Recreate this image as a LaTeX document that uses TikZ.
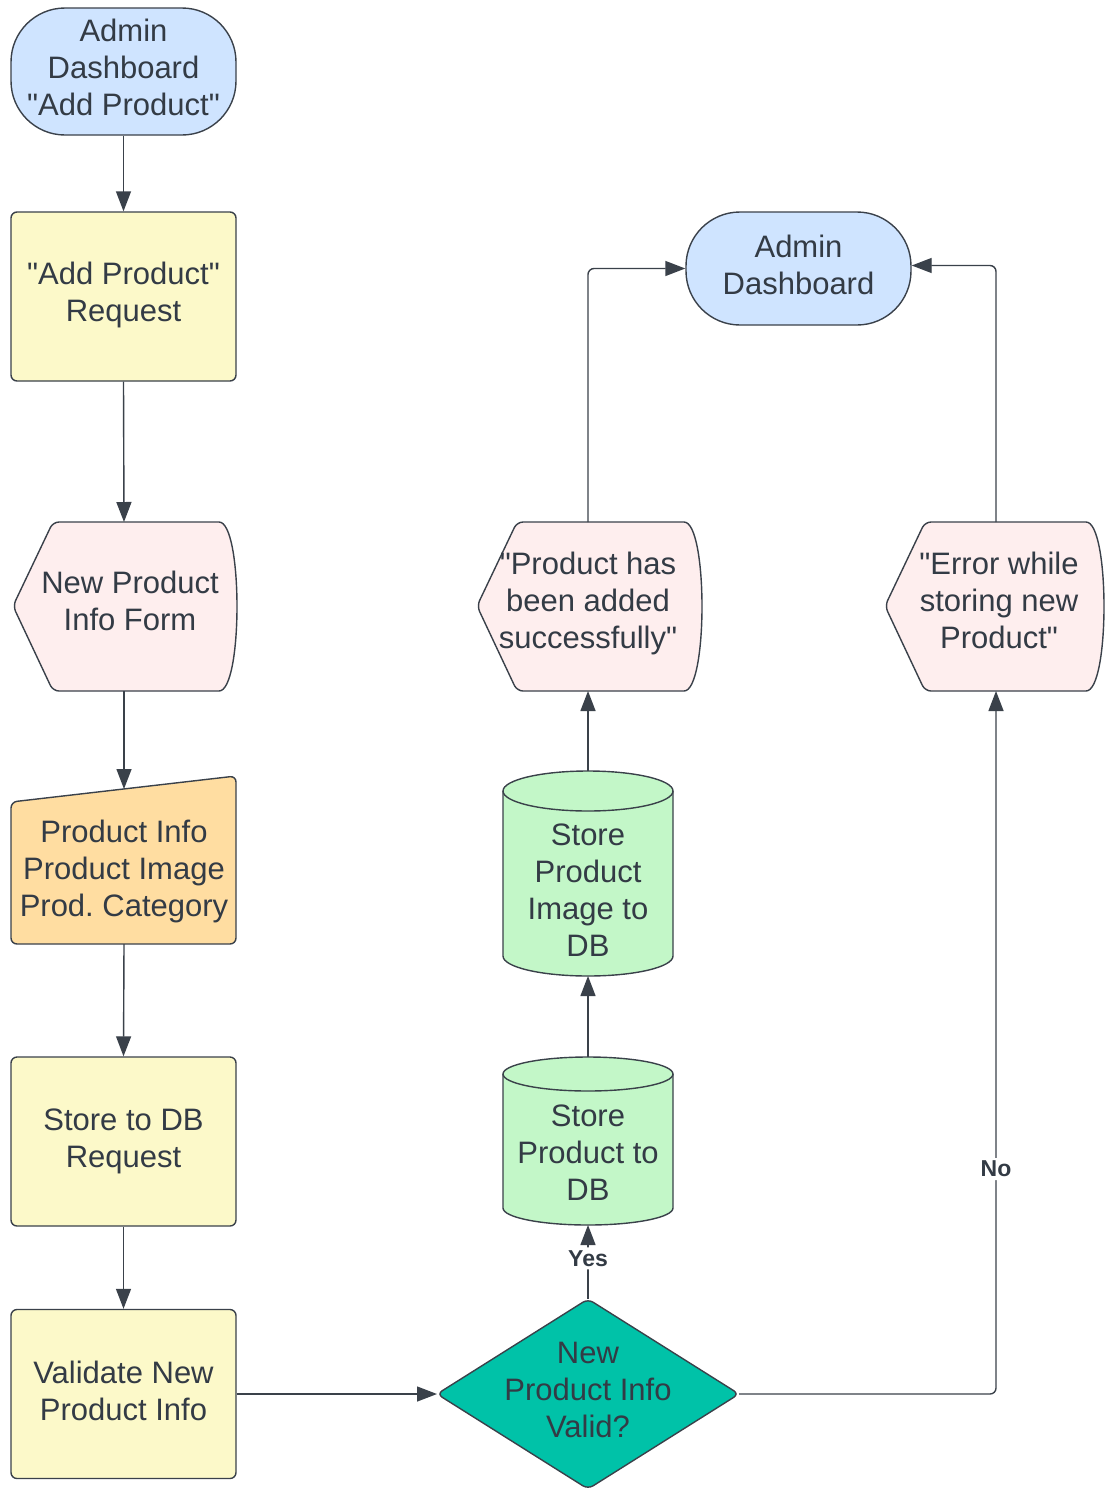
\documentclass[tikz,border=0pt]{standalone}
\usepackage{fontspec}
\setmainfont{Liberation Sans}[Ligatures=TeXOff]
\usetikzlibrary{arrows.meta}
\definecolor{ln}{HTML}{3A414A}
\definecolor{txt}{HTML}{333B45}
\definecolor{cblue}{HTML}{CFE4FF}
\definecolor{cyellow}{HTML}{FCF9C9}
\definecolor{cpink}{HTML}{FEEEEE}
\definecolor{corange}{HTML}{FFDDA1}
\definecolor{cgreen}{HTML}{C3F7C8}
\definecolor{cteal}{HTML}{00C2A8}
\begin{document}
\begin{tikzpicture}[x=0.5pt,y=-0.5pt,
  every node/.style={text=txt, font=\fontsize{15.5pt}{18.5pt}\selectfont\frenchspacing, align=center},
  shp/.style={draw=ln, line width=0.7pt},
  boxshape/.style={shp, rounded corners=3pt, minimum width=112.5pt, minimum height=84.5pt, inner sep=0pt},
  termshape/.style={shp, fill=cblue, inner sep=0pt},
  txtnode/.style={inner sep=0pt},
  conn/.style={draw=ln, line width=0.7pt, -{Triangle[length=10pt,width=7.5pt]}, rounded corners=3pt},
  lbl/.style={fill=white, text=txt, font=\fontsize{11.5pt}{13pt}\selectfont\bfseries, inner sep=1.5pt},
]
\useasboundingbox (0,0) rectangle (1105,1488);

% ---- left column ----
\node[termshape, rounded corners=27pt, minimum width=112.5pt, minimum height=63.5pt, text depth=4pt] (t1) at (123.5,71.5) {Admin\\Dashboard\\"Add Product"};
\node[boxshape, fill=cyellow, text depth=5pt] (b1) at (123.5,296.5) {"Add Product"\\Request};

% display shape: New Product Info Form
\draw[shp, fill=cpink, rounded corners=3pt] (13,606) -- (53,522) -- (213,522) .. controls (243,522) and (243,691) .. (213,691) -- (53,691) -- cycle;
\node[txtnode] (form) at (130,601) {New Product\\Info Form};
\coordinate (formTop) at (124,522);
\coordinate (formBot) at (124,691);

% manual input
\draw[shp, fill=corange, rounded corners=3pt] (11,802) -- (236,776) -- (236,944) -- (11,944) -- cycle;
\node[txtnode] (info) at (124,871) {Product Info\\Product Image\\Prod. Category};
\coordinate (infoTop) at (124,789);
\coordinate (infoBot) at (124,944);

\node[boxshape, fill=cyellow] (sreq) at (123.5,1141.5) {Store to DB\\Request};
\node[boxshape, fill=cyellow, text depth=3.5pt] (val) at (123.5,1394) {Validate New\\Product Info};

% ---- decision ----
\coordinate (decL) at (437,1394);
\coordinate (decT) at (588,1299);
\coordinate (decR) at (739,1394);
\coordinate (decB) at (588,1489);
\draw[shp, fill=cteal, rounded corners=3pt] (decL) -- (decT) -- (decR) -- (decB) -- cycle;
\node[txtnode] (dec) at (588,1390) {New\\Product Info\\Valid?};

% ---- cylinders ----
\draw[shp, fill=cgreen] (503,1074) -- (503,1208) arc[start angle=180, end angle=360, x radius=42.5pt, y radius=8.5pt] -- (673,1074) arc[start angle=0, end angle=180, x radius=42.5pt, y radius=8.5pt] -- cycle;
\draw[shp] (503,1074) arc[start angle=180, end angle=360, x radius=42.5pt, y radius=8.5pt];
\node[txtnode] (cyl1) at (588,1153) {Store\\Product to\\DB};
\coordinate (c1Top) at (588,1057);
\coordinate (c1Bot) at (588,1225);

\draw[shp, fill=cgreen] (503,791) -- (503,956) arc[start angle=180, end angle=360, x radius=42.5pt, y radius=10pt] -- (673,791) arc[start angle=0, end angle=180, x radius=42.5pt, y radius=10pt] -- cycle;
\draw[shp] (503,791) arc[start angle=180, end angle=360, x radius=42.5pt, y radius=10pt];
\node[txtnode] (cyl2) at (588,890) {Store\\Product\\Image to\\DB};
\coordinate (c2Top) at (588,771);
\coordinate (c2Bot) at (588,976);

% ---- displays ----
\draw[shp, fill=cpink, rounded corners=3pt] (477,606) -- (517,522) -- (678,522) .. controls (708,522) and (708,691) .. (678,691) -- (517,691) -- cycle;
\node[txtnode] (succ) at (588,603) {"Product has\\been added\\successfully"};
\coordinate (d2Top) at (588,522);
\coordinate (d2Bot) at (588,691);

\draw[shp, fill=cpink, rounded corners=3pt] (885,606) -- (925,522) -- (1080,522) .. controls (1110,522) and (1110,691) .. (1080,691) -- (925,691) -- cycle;
\node[txtnode] (err) at (999,600) {"Error while\\storing new\\Product"};
\coordinate (d3Top) at (996,522);
\coordinate (d3Bot) at (996,691);

% ---- admin dashboard ----
\node[termshape, rounded corners=27pt, minimum width=112.5pt, minimum height=56.5pt, text depth=3.5pt] (t2) at (798.5,268.5) {Admin\\Dashboard};

% ---- connectors ----
\draw[conn] (t1.south) -- (b1.north);
\draw[conn] (b1.south) -- (formTop);
\draw[conn] (formBot) -- (infoTop);
\draw[conn] (infoBot) -- (sreq.north);
\draw[conn] (sreq.south) -- (val.north);
\draw[conn] (val.east) -- (decL);
\draw[conn] (decT) -- node[lbl, pos=0.55] {Yes} (c1Bot);
\draw[conn] (c1Top) -- (c2Bot);
\draw[conn] (c2Top) -- (d2Bot);
\draw[conn] (d2Top) |- (t2.west);
\draw[conn] (decR) -| node[lbl, pos=0.66] {No} (d3Bot);
\draw[conn] (d3Top) |- ([yshift=1.5pt]t2.east);
\end{tikzpicture}
\end{document}
